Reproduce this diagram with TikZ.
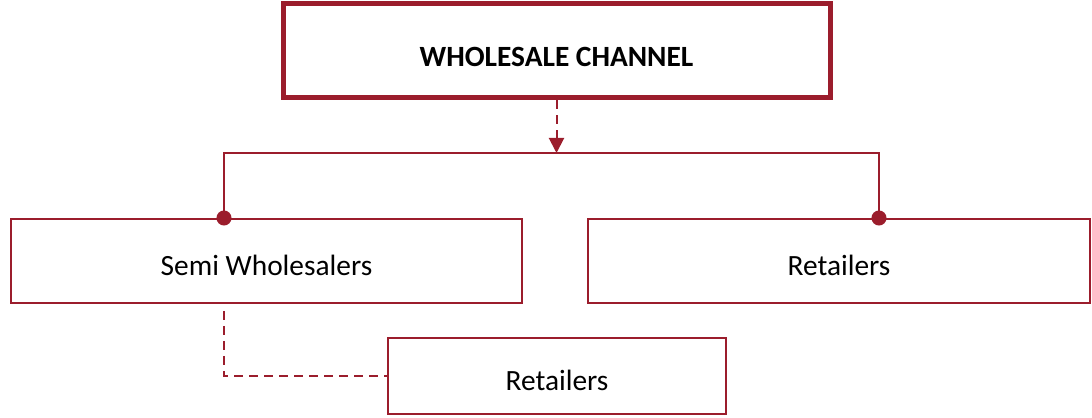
\documentclass[tikz,border=0pt]{standalone}
\usepackage{fontspec}
\setmainfont{Carlito}
\usetikzlibrary{arrows.meta}
\definecolor{wine}{RGB}{155,29,44}
\begin{document}
\begin{tikzpicture}[>=latex,line join=miter,
  box/.style={draw=wine,line width=2bp,inner sep=0pt,text height=29bp,text depth=0pt,font=\fontsize{29.5}{34}\selectfont},
  wire/.style={wine,line width=2bp},
  dotdot/.style={{Circle[length=15bp]}-{Circle[length=15bp]},shorten >=-7.5bp,shorten <=-7.5bp},
  dashwire/.style={wine,line width=2bp,dash pattern=on 9bp off 6bp}]
\useasboundingbox (0bp,0bp) rectangle (1092bp,418bp);
%%
\node (channel) at (556.5bp,367bp) [box,line width=5bp,text height=31bp,minimum width=547bp,minimum height=94bp,font=\fontsize{29.5}{34}\selectfont\bfseries] {WHOLESALE CHANNEL};
  \node (semi) at (266.5bp,157bp) [box,minimum width=511bp,minimum height=84bp] {Semi Wholesalers};
  \node (retail) at (839bp,157bp) [box,minimum width=502bp,minimum height=84bp] {Retailers};
  \node (shop) at (557bp,42bp) [box,minimum width=338bp,minimum height=76bp] {Retailers};
  \coordinate (busL) at (224bp,265bp);
  \coordinate (busR) at (879bp,265bp);
  \draw [dashwire,-{Triangle[width=15bp,length=15bp]}] (channel.south) -- (channel.south |- busL);
  \draw [wire,dotdot] (semi.north -| busL) |- (busR) -- (retail.north -| busR);
  \draw [dashwire] ([yshift=-7bp]semi.south -| busL) |- (shop.west);
%
\end{tikzpicture}
\end{document}
